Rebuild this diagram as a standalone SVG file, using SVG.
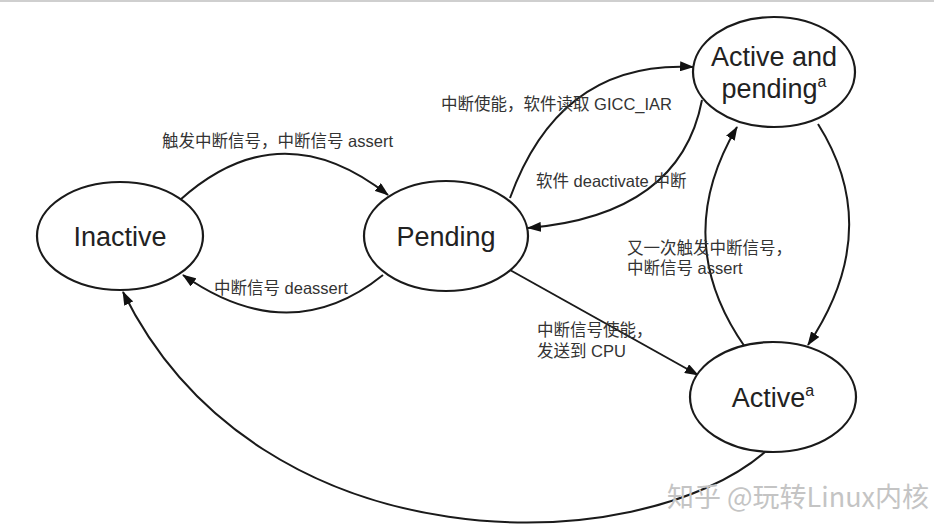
<svg xmlns="http://www.w3.org/2000/svg" width="934" height="532" viewBox="0 0 934 532">
<defs>
<marker id="arr" viewBox="0 0 14 10" refX="13" refY="5" markerWidth="14" markerHeight="10" markerUnits="userSpaceOnUse" orient="auto">
<path d="M0,0 L14,5 L0,10 Z" fill="#111"/>
</marker>
<style>
.node{fill:#fff;stroke:#1a1a1a;stroke-width:2.2}
.nl{font-family:"Liberation Sans","Noto Sans CJK SC",sans-serif;font-size:27px;fill:#222;text-anchor:middle}
.sup{font-size:16px}
.edge{fill:none;stroke:#1a1a1a;stroke-width:2;marker-end:url(#arr)}
.lb{font-family:"Liberation Sans","Noto Sans CJK SC",sans-serif;font-size:16.5px;fill:#333}
.wm{font-family:"Noto Sans CJK SC","Liberation Sans",sans-serif;font-size:27px;fill:#c4c4c4}
</style>
</defs>
<rect width="934" height="532" fill="#fff"/>
<line x1="0" y1="1" x2="934" y2="1" stroke="#cfcfcf" stroke-width="2"/>
<g id="connectors">
<path class="edge" d="M180,200 Q280,110 388,195"/>
<path class="edge" d="M383,275 Q290,350 183,275"/>
<path class="edge" d="M510,198 Q560,60 693,67"/>
<path class="edge" d="M702,100 Q680,215 528,228"/>
<path class="edge" d="M510,270 L698,375"/>
<path class="edge" d="M818,124 Q885,230 808,345"/>
<path class="edge" d="M745,347 Q670,240 737,127"/>
<path class="edge" d="M765,452 C640,560 260,570 123,292"/>
</g>
<g id="labels">
<text class="lb" x="162" y="147">触发中断信号，中断信号 assert</text>
<text class="lb" x="214" y="294">中断信号 deassert</text>
<text class="lb" x="441" y="110">中断使能，软件读取 GICC_IAR</text>
<text class="lb" x="536" y="187">软件 deactivate 中断</text>
<text class="lb" x="537" y="336">中断信号使能，</text>
<text class="lb" x="537" y="357">发送到 CPU</text>
<text class="lb" x="627" y="254">又一次触发中断信号，</text>
<text class="lb" x="627" y="274">中断信号 assert</text>
</g>
<g id="inactive">
<ellipse class="node" cx="120" cy="236" rx="83" ry="54"/>
<text class="nl" x="120" y="246">Inactive</text>
</g>
<g id="pending">
<ellipse class="node" cx="446" cy="236" rx="82" ry="55"/>
<text class="nl" x="446" y="246">Pending</text>
</g>
<g id="active-and-pending">
<ellipse class="node" cx="774" cy="72" rx="81" ry="55"/>
<text class="nl" x="774" y="66">Active and</text>
<text class="nl" x="774" y="98">pending<tspan class="sup" dy="-11">a</tspan></text>
</g>
<g id="active">
<ellipse class="node" cx="773" cy="397" rx="83" ry="55"/>
<text class="nl" x="773" y="407">Active<tspan class="sup" dy="-11">a</tspan></text>
</g>
<text class="wm" x="667" y="507">知乎 @玩转Linux内核</text>
</svg>
